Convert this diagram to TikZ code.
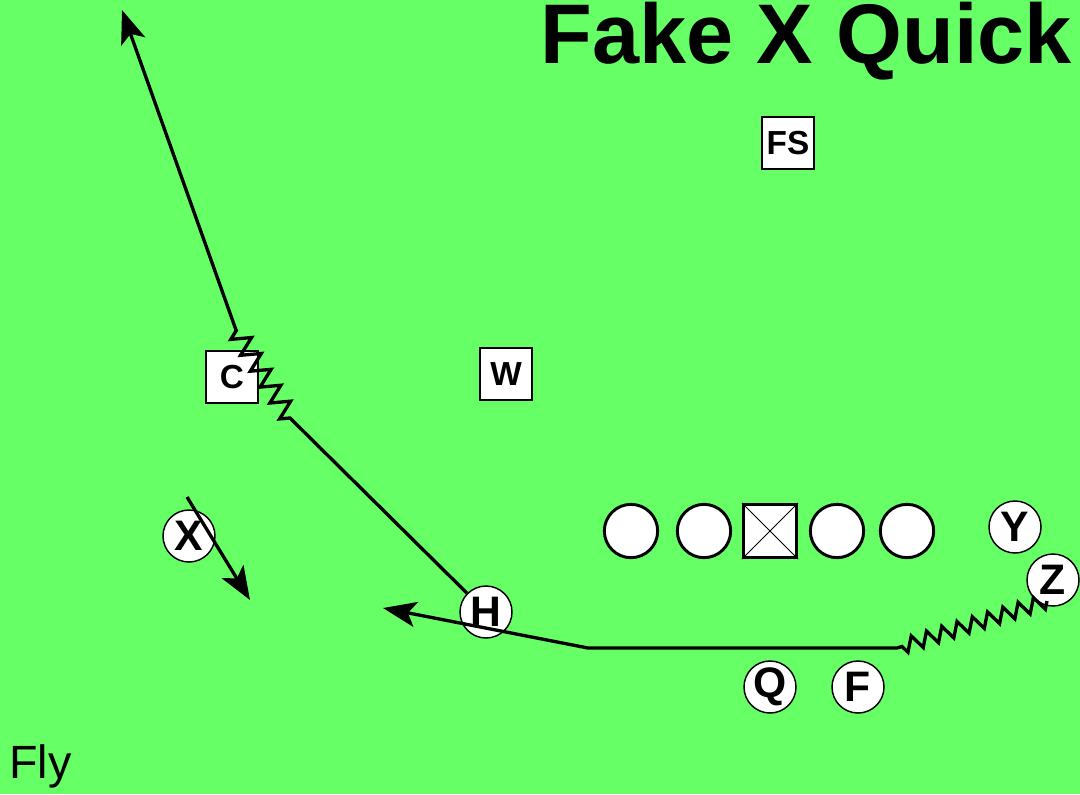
\documentclass[tikz,border=0pt]{standalone}
\usepackage{fontspec}
\setmainfont{Liberation Sans}
\usetikzlibrary{arrows.meta,decorations.pathmorphing}
\definecolor{field}{RGB}{102,255,102}
\begin{document}
\begin{tikzpicture}[x=0.75pt,y=-0.75pt,
 player/.style={circle,draw,fill=white,line width=1.1pt,minimum size=39pt,inner sep=0pt,font=\fontsize{32}{32}\bfseries\selectfont},
 defender/.style={rectangle,draw,fill=white,line width=0.8pt,minimum size=39pt,inner sep=0pt,font=\fontsize{25}{25}\bfseries\selectfont},
 lineman/.style={circle,draw,fill=white,line width=2.2pt,minimum size=40pt,inner sep=0pt},
 route/.style={line width=2.5pt},
 tip/.style={-{Stealth[length=25pt,width=19pt,inset=6pt]}},
 zzc/.style={decoration={zigzag,segment length=14pt,amplitude=7pt}},
 zzz/.style={decoration={zigzag,segment length=12pt,amplitude=5.5pt}}]
\useasboundingbox (0,0) rectangle (1080,794);
\fill[field] (0,0) rectangle (1080,794);
\node[anchor=base west,inner sep=0pt,font=\fontsize{63.5}{63.5}\bfseries\selectfont] (title) at (540,63) {Fake X Quick};
\node[anchor=base west,inner sep=0pt,font=\fontsize{35}{35}\selectfont] (fly) at (9,778) {Fly};
\node[defender] (FS) at (788,143) {FS};
\node[defender] (W) at (506,374) {W};
\node[defender] (C) at (232,377) {C};
\node[lineman] (LT) at (631,531) {};
\node[lineman] (LG) at (704,531) {};
\node[lineman,rectangle] (Ce) at (770,531) {};
\draw[line width=0.7pt] (Ce.north west) -- (Ce.south east) (Ce.north east) -- (Ce.south west);
\node[lineman] (RG) at (837,531) {};
\node[lineman] (RT) at (907,531) {};
\node[player] (X) at (189,536) {X};
\node[player] (H) at (486,612) {H};
\node[player] (Q) at (770,687) {Q};
\node[player] (F) at (858,687) {F};
\node[player] (Y) at (1015,527) {Y};
\node[player] (Z) at (1053,580) {Z};
% C route
\coordinate (c1) at (290,418);
\coordinate (c2) at (236,330);
\coordinate (ctip) at (122,10);
\draw[route,tip,zzc] (H) -- (c1) decorate{-- (c2)} -- (ctip);
% X route
\coordinate (x1) at (187,497);
\coordinate (x2) at (250,600);
\draw[route,tip] (x1) -- (x2);
% Z route
\coordinate (z1) at (1047,601);
\coordinate (z2) at (897,648);
\coordinate (z3) at (588,648);
\coordinate (htip) at (383,608);
\draw[route,tip,zzz] (z1) decorate{-- (z2)} -- (z3) -- (htip);
\end{tikzpicture}
\end{document}
